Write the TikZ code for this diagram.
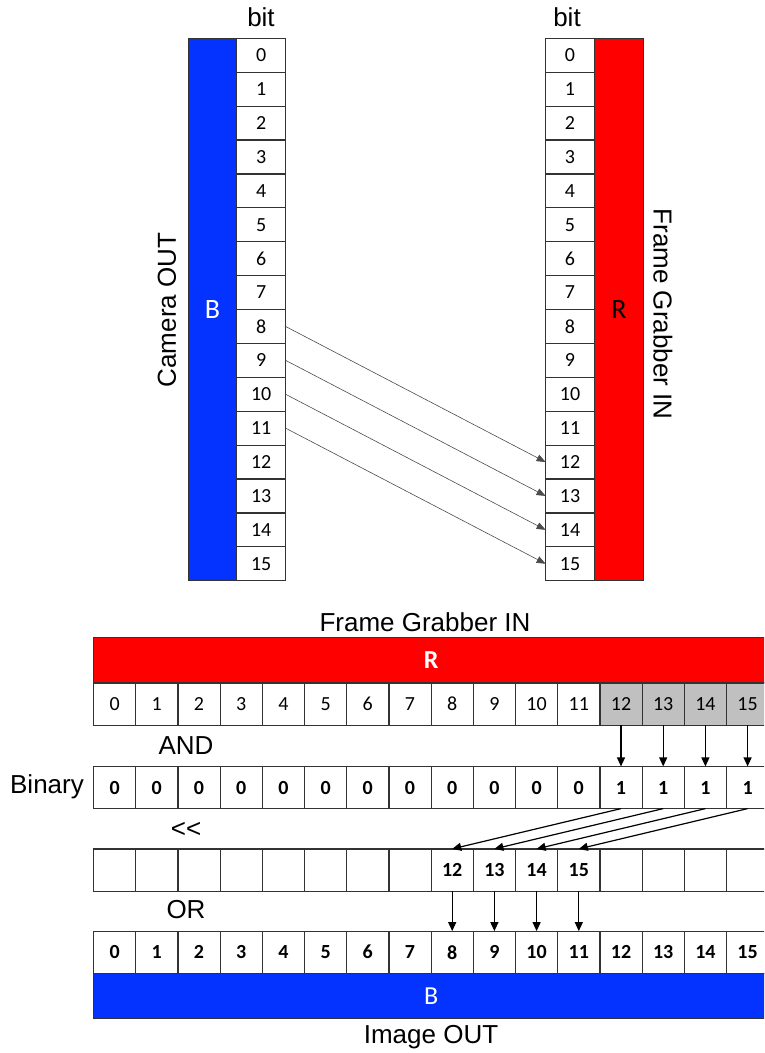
\documentclass[tikz,border=0pt]{standalone}
\usepackage{fontspec}
\setmainfont{Liberation Sans}
\newfontfamily\cellfont{Carlito}
\usetikzlibrary{arrows.meta,positioning}
\definecolor{barblue}{HTML}{0433FF}
\definecolor{barred}{HTML}{FF0000}
\definecolor{cellgray}{HTML}{C0C0C0}

\begin{document}
\begin{tikzpicture}[
  x=1pt,y=-1pt,
  every node/.style={inner sep=0pt,outer sep=0pt},
  lbl/.style={font=\fontsize{26}{30}\selectfont},
  vcell/.style={draw=black!80,line width=1.2pt,minimum width=48.8pt,minimum height=33.9pt,font=\cellfont\fontsize{20}{24}\selectfont},
  hcell/.style={draw=black!80,line width=1.2pt,minimum width=42.2pt,minimum height=42.2pt,font=\cellfont\fontsize{20}{24}\selectfont},
  bcell/.style={hcell,font=\cellfont\bfseries\fontsize{20}{24}\selectfont},
  bluebar/.style={draw=black!80,line width=1.2pt,fill=barblue},
  redbar/.style={draw=black!80,line width=1.2pt,fill=barred},
  thinarr/.style={-{Triangle[length=9pt,width=7pt]},gray!60!black,line width=0.6pt},
  downarr/.style={-{Triangle[length=9pt,width=8pt]},black,line width=1.2pt}
]
\useasboundingbox (0,0) rectangle (764,1053);
\clip (0,0) rectangle (764,1053);

% upper part: camera out -> frame grabber in
\node[bluebar,minimum width=48.4pt,minimum height=542.4pt,text=white,font=\cellfont\fontsize{28}{32}\selectfont] (camB) at (212.5,309.5) {B};
\node[redbar,minimum width=48.8pt,minimum height=542.4pt,font=\cellfont\fontsize{28}{32}\selectfont] (fgR) at (619,309.5) {R};
\foreach \i in {0,...,15} {
  \node[vcell] (cam\i) at (261.2,{38.3+(\i+0.5)*33.9}) {\i};
  \node[vcell] (fg\i) at (570,{38.3+(\i+0.5)*33.9}) {\i};
}
\node[lbl] (bitL) at (261,17) {bit};
\node[lbl] (bitR) at (567,17) {bit};
\node[lbl,rotate=90] (camlbl) at (167,310) {Camera OUT};
\node[lbl,rotate=-90] (fglbl) at (663,314) {Frame Grabber IN};

\foreach \s/\t in {8/12,9/13,10/14,11/15}
  \draw[thinarr] (cam\s.east) -- (fg\t.west);

% lower part: AND, shift, OR
\node[lbl] (fgtitle) at (425,622) {Frame Grabber IN};
\node[redbar,minimum width=675.2pt,minimum height=45pt,text=white,font=\cellfont\bfseries\fontsize{26}{30}\selectfont] (Rbar) at (431.1,660.2) {R};
\foreach \i in {0,...,11}
  \node[hcell] (in\i) at ({93.5+(\i+0.5)*42.2},704) {\i};
\foreach \i in {12,...,15}
  \node[hcell,fill=cellgray] (in\i) at ({93.5+(\i+0.5)*42.2},704) {\i};

\node[lbl] (andlbl) at (186,746) {AND};
\node[lbl] (binlbl) at (47,787) {Binary};
\foreach \i in {0,...,11}
  \node[bcell] (bin\i) at ({93.5+(\i+0.5)*42.2},787.5) {0};
\foreach \i in {12,...,15}
  \node[bcell] (bin\i) at ({93.5+(\i+0.5)*42.2},787.5) {1};

\node[lbl] (shlbl) at (186,830) {<\kern0pt<};
\foreach \i in {0,...,7,12,13,14,15}
  \node[bcell] (sh\i) at ({93.5+(\i+0.5)*42.2},870) {};
\foreach \i [evaluate=\i as \v using int(\i+4)] in {8,...,11}
  \node[bcell] (sh\i) at ({93.5+(\i+0.5)*42.2},870) {\v};

\node[lbl] (orlbl) at (186,910) {OR};
\node[bluebar,minimum width=675.2pt,minimum height=45pt,text=white,font=\cellfont\fontsize{26}{30}\selectfont] (Bbar) at (431.1,995.8) {B};
\foreach \i in {0,...,15}
  \node[bcell] (out\i) at ({93.5+(\i+0.5)*42.2},952.2) {\i};
\node[lbl] (outlbl) at (431,1037) {Image OUT};

\foreach \i in {12,...,15}
  \draw[downarr] (in\i.south) -- (bin\i.north);
\foreach \s/\t in {12/8,13/9,14/10,15/11}
  \draw[downarr] (bin\s.south) -- (sh\t.north);
\foreach \i in {8,...,11}
  \draw[downarr] (sh\i.south) -- (out\i.north);
\end{tikzpicture}
\end{document}
